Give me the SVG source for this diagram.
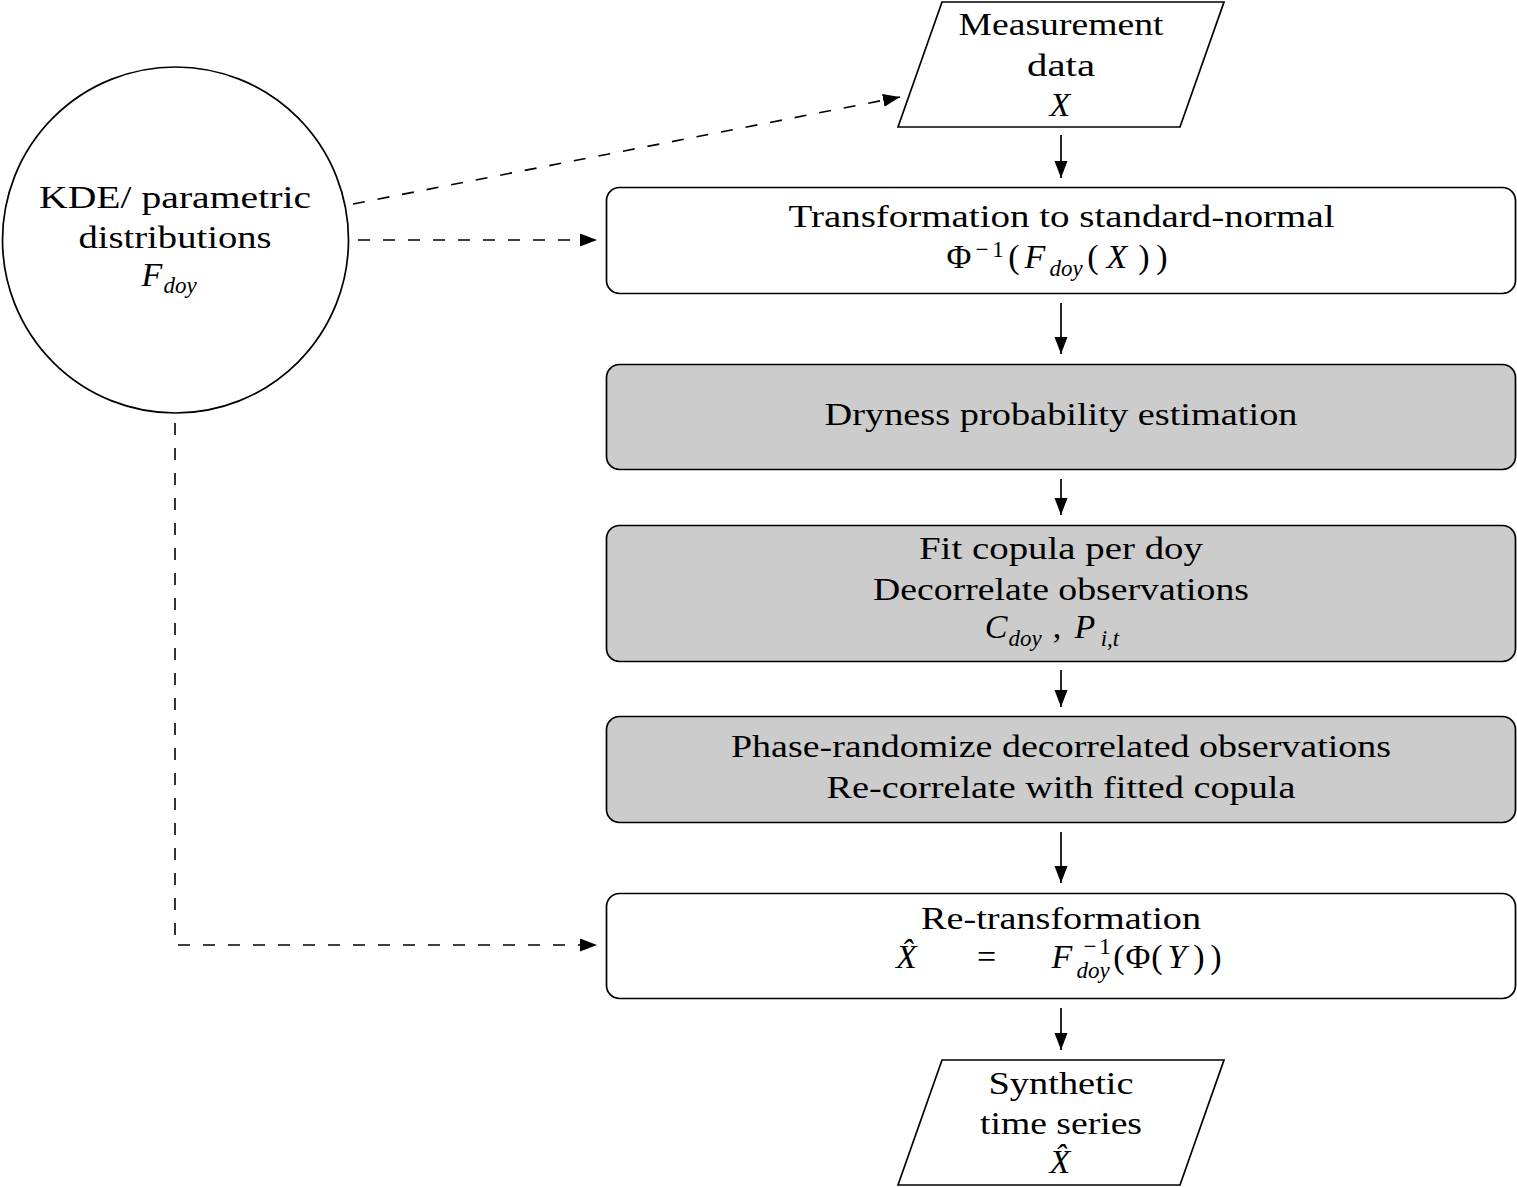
<svg xmlns="http://www.w3.org/2000/svg" width="1517" height="1187" viewBox="0 0 1517 1187">
<style>
  text { font-family: "Liberation Serif", "DejaVu Serif", serif; font-size: 32px; fill: #000; }
  .c { text-anchor: middle; }
  .m { font-size: 34px; }
  .i { font-style: italic; }
  .s { font-size: 23px; }
  .box { fill: #fff; stroke: #000; stroke-width: 1.7; }
  .gray { fill: #cccccc; }
  .io { fill: #fff; stroke: #000; stroke-width: 1.7; }
  .arr { fill: none; stroke: #000; stroke-width: 1.7; marker-end: url(#ah); }
  .dash { fill: none; stroke: #000; stroke-width: 1.6; stroke-dasharray: 12 13; marker-end: url(#ah); }
</style>
<defs>
  <marker id="ah" markerUnits="userSpaceOnUse" markerWidth="18" markerHeight="14" refX="17" refY="6.5" orient="auto">
    <path d="M0,0 L17,6.5 L0,13 z" fill="#000"/>
  </marker>
</defs>
<rect width="1517" height="1187" fill="#fff"/>

<g id="connectors">
  <line class="arr" x1="1061" y1="135" x2="1061" y2="178"/>
  <line class="arr" x1="1061" y1="303" x2="1061" y2="354"/>
  <line class="arr" x1="1061" y1="479" x2="1061" y2="515"/>
  <line class="arr" x1="1061" y1="670" x2="1061" y2="707"/>
  <line class="arr" x1="1061" y1="832" x2="1061" y2="883"/>
  <line class="arr" x1="1061" y1="1008" x2="1061" y2="1050"/>
  <line class="dash" x1="353" y1="204" x2="900" y2="97"/>
  <line class="dash" x1="358" y1="240" x2="597" y2="240"/>
  <path class="dash" d="M175,423 L175,945 L597,945"/>
</g>

<g id="kde">
  <circle cx="175.5" cy="240" r="173" fill="#fff" stroke="#000" stroke-width="1.7"/>
  <text class="c" x="175" y="208" textLength="272" lengthAdjust="spacingAndGlyphs">KDE/ parametric</text>
  <text class="c" x="175" y="248" textLength="193" lengthAdjust="spacingAndGlyphs">distributions</text>
  <text class="c m" y="286"><tspan class="i" x="152">F</tspan><tspan class="i s" x="180" y="293">doy</tspan></text>
</g>

<g id="measurement">
  <polygon class="io" points="898,127 942,2 1224,2 1180,127"/>
  <text class="c" x="1061" y="35" textLength="205" lengthAdjust="spacingAndGlyphs">Measurement</text>
  <text class="c" x="1061" y="76" textLength="68" lengthAdjust="spacingAndGlyphs">data</text>
  <text class="c i m" x="1060" y="116">X</text>
</g>

<g id="transform">
  <rect class="box" x="606.5" y="187.5" width="909" height="106" rx="13"/>
  <text class="c" x="1061.5" y="227" textLength="546" lengthAdjust="spacingAndGlyphs">Transformation to standard-normal</text>
  <text class="c m" y="268"><tspan x="959">Φ</tspan><tspan class="s" x="982 998" y="257">−1</tspan><tspan x="1014" y="268">(</tspan><tspan class="i" x="1035">F</tspan><tspan class="i s" x="1066" y="276">doy</tspan><tspan x="1093" y="268">(</tspan><tspan class="i" x="1117">X</tspan><tspan x="1144 1162">))</tspan></text>
</g>

<g id="dryness">
  <rect class="box gray" x="606.5" y="364.5" width="909" height="105" rx="13"/>
  <text class="c" x="1061" y="425" textLength="473" lengthAdjust="spacingAndGlyphs">Dryness probability estimation</text>
</g>

<g id="copula">
  <rect class="box gray" x="606.5" y="525.5" width="909" height="136" rx="13"/>
  <text class="c" x="1061" y="559" textLength="284" lengthAdjust="spacingAndGlyphs">Fit copula per doy</text>
  <text class="c" x="1061" y="600" textLength="376" lengthAdjust="spacingAndGlyphs">Decorrelate observations</text>
  <text class="c m" y="638"><tspan class="i" x="996">C</tspan><tspan class="i s" x="1025" y="646">doy</tspan><tspan x="1057" y="638">,</tspan><tspan class="i" x="1085">P</tspan><tspan class="i s" x="1110" y="646">i,t</tspan></text>
</g>

<g id="phase">
  <rect class="box gray" x="606.5" y="716.5" width="909" height="106" rx="13"/>
  <text class="c" x="1061" y="757" textLength="660" lengthAdjust="spacingAndGlyphs">Phase-randomize decorrelated observations</text>
  <text class="c" x="1061" y="798" textLength="469" lengthAdjust="spacingAndGlyphs">Re-correlate with fitted copula</text>
</g>

<g id="retransform">
  <rect class="box" x="606.5" y="893.5" width="909" height="105" rx="13"/>
  <text class="c" x="1061" y="929" textLength="280" lengthAdjust="spacingAndGlyphs">Re-transformation</text>
  <text class="c m" y="968"><tspan class="i" x="906.5">X̂</tspan><tspan x="986.5">=</tspan><tspan class="i" x="1062">F</tspan><tspan class="s" x="1090 1105" y="954">−1</tspan><tspan class="i s" x="1093" y="978">doy</tspan><tspan x="1119 1138 1157" y="968">(Φ(</tspan><tspan class="i" x="1177">Y</tspan><tspan x="1199 1216">))</tspan></text>
</g>

<g id="synthetic">
  <polygon class="io" points="898,1185 942,1060 1224,1060 1180,1185"/>
  <text class="c" x="1061" y="1094" textLength="145" lengthAdjust="spacingAndGlyphs">Synthetic</text>
  <text class="c" x="1061" y="1134" textLength="162" lengthAdjust="spacingAndGlyphs">time series</text>
  <text class="c i m" x="1060" y="1173">X̂</text>
</g>
</svg>
